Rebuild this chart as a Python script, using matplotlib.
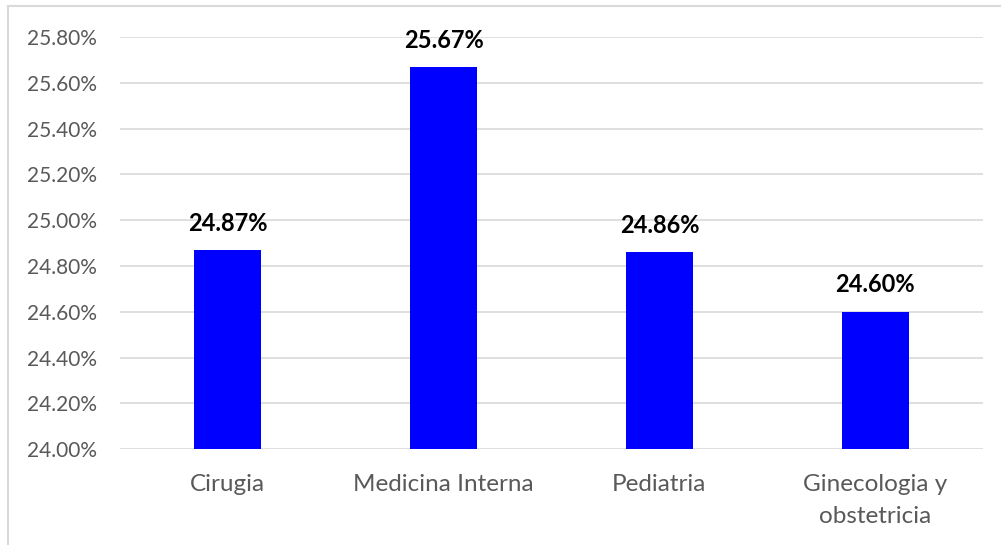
import matplotlib.pyplot as plt
from matplotlib.lines import Line2D
from matplotlib.ticker import FuncFormatter, MultipleLocator

categories = ["Cirugia", "Medicina Interna", "Pediatria", "Ginecologia y\nobstetricia"]
values = [24.87, 25.67, 24.86, 24.60]

plt.rcParams['font.family'] = ['Lato', 'DejaVu Sans']

fig = plt.figure(figsize=(10.01, 5.45), dpi=100)
ax = fig.add_axes([0.1199, 0.176, 0.8622, 0.756])

x = range(len(categories))
ax.bar(x, values, width=0.31, color="#0000FF", zorder=3)

for xi, v in zip(x, values):
    ax.annotate(f"{v:.2f}%", (xi, v), xytext=(0, 11), textcoords="offset points",
                ha="center", va="bottom", fontsize=17, fontweight="bold", color="black")

ax.set_ylim(24.0, 25.8)
ax.set_xlim(-0.5, len(categories) - 0.5)
ax.yaxis.set_major_locator(MultipleLocator(0.2))
ax.yaxis.set_major_formatter(FuncFormatter(lambda v, p: f"{v:.2f}%"))
ax.grid(axis="y", color="#d9d9d9", linewidth=1.2, zorder=0)

for s in ax.spines.values():
    s.set_visible(False)
ax.tick_params(axis="both", length=0, labelcolor="#595959")
ax.tick_params(axis="y", pad=16.5, labelsize=15)
ax.tick_params(axis="x", pad=18, labelsize=17.5)
ax.set_xticks(list(x))
ax.set_xticklabels(categories, linespacing=1.65)

# outer chart border (left and top only visible)
fig.add_artist(Line2D([8 / 1001, 8 / 1001], [0, 1 - 6 / 545], color="#d9d9d9", linewidth=1.5))
fig.add_artist(Line2D([8 / 1001, 1], [1 - 6 / 545, 1 - 6 / 545], color="#d9d9d9", linewidth=1.5))

fig.savefig("out.png", dpi=100)
